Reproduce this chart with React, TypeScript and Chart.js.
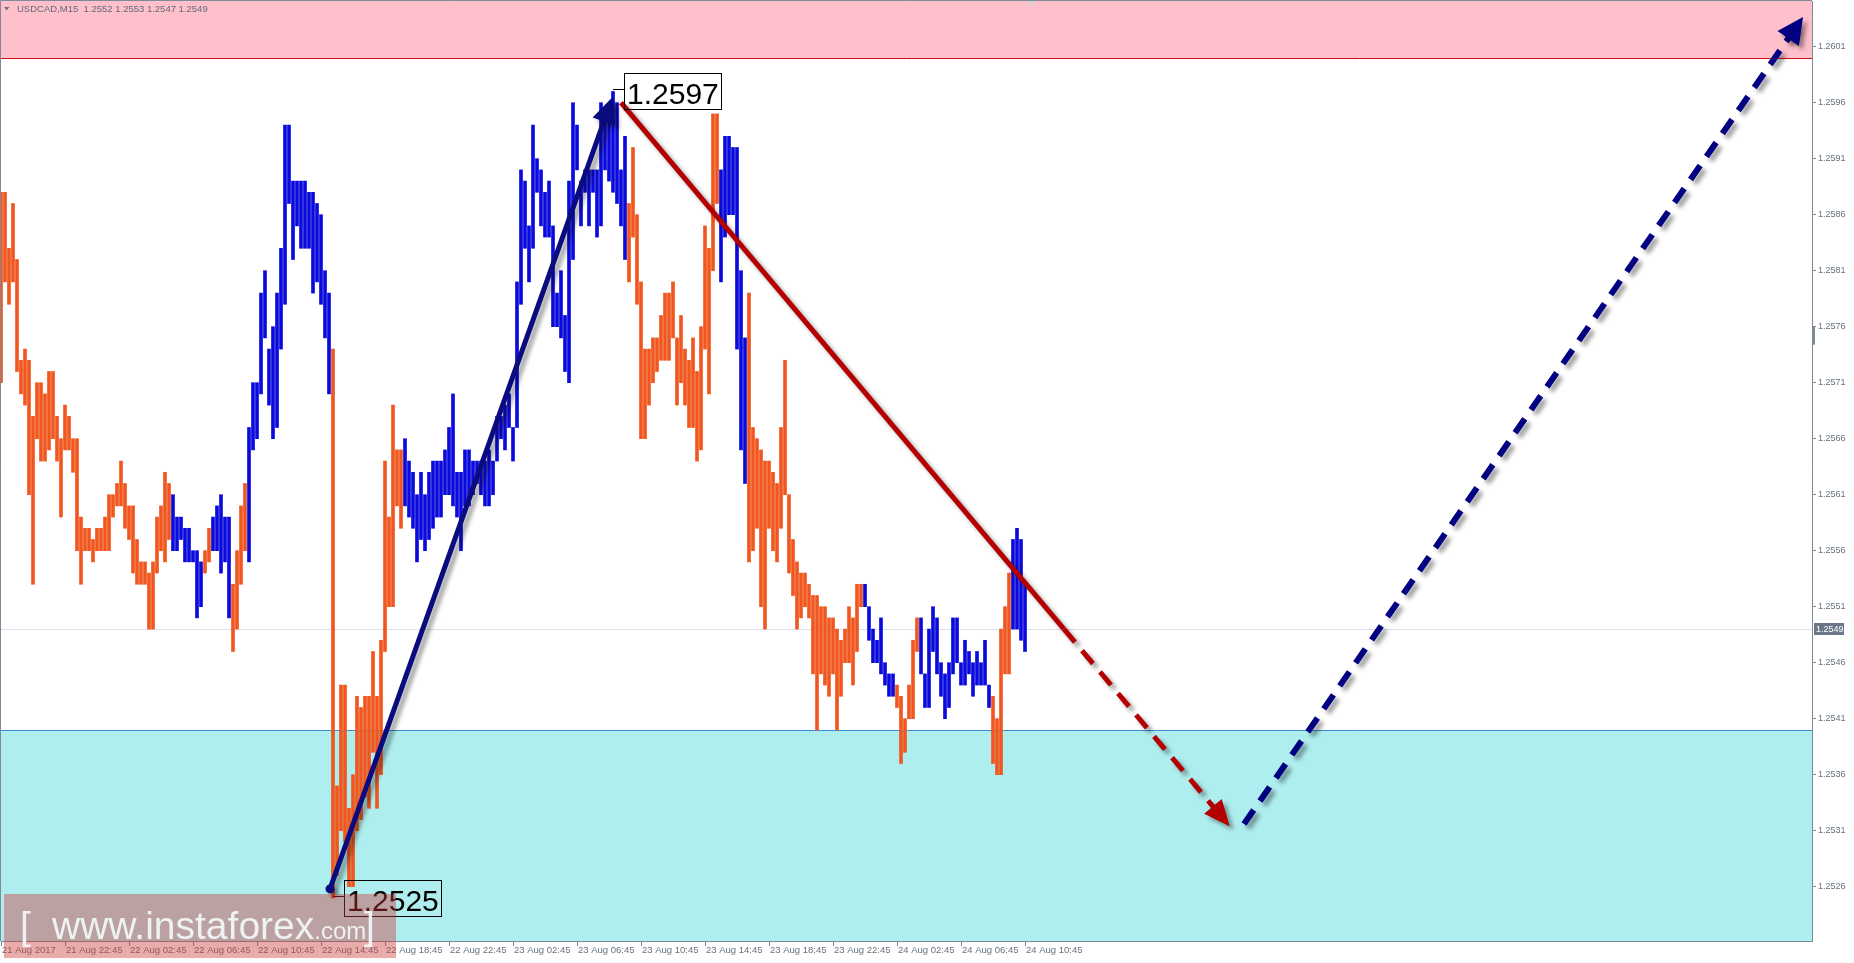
import React, { useEffect, useRef } from 'react';
import { Chart, registerables } from 'chart.js';

Chart.register(...registerables);

// ---------------- data ----------------
const SYMBOL = 'USDCAD,M15';
const HEADER_OHLC = [1.2552, 1.2553, 1.2547, 1.2549];

// M15 bars, index 0 = 21 Aug 18:45 ... 256 = 24 Aug 10:45
const HIGHS = [
  1.2588, 1.2588, 1.2583, 1.2587, 1.2582, 1.2573, 1.2574, 1.2573, 1.2568, 1.2571,
  1.2571, 1.2570, 1.2572, 1.2572, 1.2568, 1.2566, 1.2569, 1.2568, 1.2566, 1.2566,
  1.2559, 1.2558, 1.2558, 1.2557, 1.2558, 1.2558, 1.2559, 1.2561, 1.2561, 1.2562,
  1.2564, 1.2562, 1.2560, 1.2560, 1.2557, 1.2555, 1.2555, 1.2554, 1.2555, 1.2559,
  1.2560, 1.2563, 1.2562, 1.2561, 1.2559, 1.2559, 1.2558, 1.2558, 1.2556, 1.2556,
  1.2555, 1.2556, 1.2558, 1.2559, 1.2560, 1.2561, 1.2559, 1.2559, 1.2553, 1.2556,
  1.2560, 1.2562, 1.2567, 1.2571, 1.2571, 1.2579, 1.2581, 1.2574, 1.2576, 1.2579,
  1.2583, 1.2594, 1.2594, 1.2589, 1.2589, 1.2589, 1.2589, 1.2588, 1.2588, 1.2587,
  1.2586, 1.2581, 1.2579, 1.2574, 1.2535, 1.2544, 1.2544, 1.2533, 1.2536, 1.2543,
  1.2542, 1.2543, 1.2543, 1.2547, 1.2543, 1.2548, 1.2564, 1.2559, 1.2569, 1.2565,
  1.2565, 1.2566, 1.2564, 1.2563, 1.2561, 1.2563, 1.2561, 1.2563, 1.2564, 1.2564,
  1.2564, 1.2565, 1.2567, 1.2570, 1.2563, 1.2563, 1.2565, 1.2565, 1.2564, 1.2564,
  1.2564, 1.2564, 1.2565, 1.2564, 1.2568, 1.2568, 1.2569, 1.2570, 1.2567, 1.2580,
  1.2590, 1.2589, 1.2585, 1.2594, 1.2591, 1.2590, 1.2588, 1.2589, 1.2585, 1.2579,
  1.2581, 1.2577, 1.2589, 1.2596, 1.2594, 1.2589, 1.2590, 1.2590, 1.2590, 1.2590,
  1.2596, 1.2595, 1.2595, 1.2597, 1.2596, 1.2590, 1.2593, 1.2587, 1.2592, 1.2586,
  1.2580, 1.2574, 1.2574, 1.2575, 1.2575, 1.2577, 1.2579, 1.2579, 1.2580, 1.2575,
  1.2577, 1.2574, 1.2573, 1.2575, 1.2572, 1.2576, 1.2585, 1.2583, 1.2595, 1.2595,
  1.2590, 1.2593, 1.2593, 1.2592, 1.2592, 1.2581, 1.2575, 1.2579, 1.2567, 1.2566,
  1.2565, 1.2564, 1.2564, 1.2563, 1.2562, 1.2567, 1.2573, 1.2561, 1.2557, 1.2555,
  1.2554, 1.2554, 1.2553, 1.2552, 1.2552, 1.2551, 1.2551, 1.2550, 1.2550, 1.2549,
  1.2548, 1.2549, 1.2551, 1.2550, 1.2553, 1.2553, 1.2553, 1.2551, 1.2549, 1.2548,
  1.2550, 1.2546, 1.2545, 1.2545, 1.2544, 1.2543, 1.2541, 1.2544, 1.2548, 1.2550,
  1.2550, 1.2545, 1.2549, 1.2551, 1.2550, 1.2546, 1.2545, 1.2546, 1.2550, 1.2550,
  1.2546, 1.2548, 1.2547, 1.2546, 1.2547, 1.2546, 1.2548, 1.2544, 1.2543, 1.2541,
  1.2549, 1.2551, 1.2554, 1.2557, 1.2558, 1.2557, 1.2553,
];

const LOWS = [
  1.2571, 1.2580, 1.2578, 1.2580, 1.2572, 1.2570, 1.2569, 1.2561, 1.2553, 1.2566,
  1.2564, 1.2564, 1.2565, 1.2566, 1.2564, 1.2559, 1.2565, 1.2565, 1.2563, 1.2556,
  1.2553, 1.2556, 1.2556, 1.2555, 1.2556, 1.2556, 1.2556, 1.2556, 1.2559, 1.2560,
  1.2560, 1.2558, 1.2557, 1.2554, 1.2553, 1.2553, 1.2553, 1.2549, 1.2549, 1.2554,
  1.2556, 1.2555, 1.2557, 1.2556, 1.2556, 1.2557, 1.2555, 1.2555, 1.2555, 1.2550,
  1.2551, 1.2554, 1.2555, 1.2556, 1.2556, 1.2554, 1.2555, 1.2550, 1.2547, 1.2549,
  1.2553, 1.2556, 1.2555, 1.2565, 1.2566, 1.2570, 1.2575, 1.2569, 1.2566, 1.2567,
  1.2574, 1.2578, 1.2587, 1.2582, 1.2585, 1.2583, 1.2583, 1.2583, 1.2579, 1.2580,
  1.2578, 1.2575, 1.2570, 1.2525, 1.2527, 1.2531, 1.2530, 1.2526, 1.2526, 1.2531,
  1.2532, 1.2534, 1.2533, 1.2538, 1.2533, 1.2536, 1.2547, 1.2551, 1.2551, 1.2560,
  1.2558, 1.2560, 1.2559, 1.2558, 1.2555, 1.2557, 1.2556, 1.2557, 1.2558, 1.2559,
  1.2559, 1.2561, 1.2561, 1.2560, 1.2559, 1.2556, 1.2560, 1.2560, 1.2561, 1.2562,
  1.2561, 1.2560, 1.2560, 1.2561, 1.2564, 1.2566, 1.2565, 1.2567, 1.2564, 1.2567,
  1.2578, 1.2583, 1.2580, 1.2583, 1.2588, 1.2585, 1.2584, 1.2584, 1.2576, 1.2576,
  1.2575, 1.2572, 1.2571, 1.2582, 1.2590, 1.2585, 1.2588, 1.2585, 1.2588, 1.2584,
  1.2585, 1.2590, 1.2589, 1.2588, 1.2587, 1.2585, 1.2582, 1.2580, 1.2584, 1.2578,
  1.2566, 1.2566, 1.2569, 1.2571, 1.2572, 1.2573, 1.2573, 1.2573, 1.2575, 1.2569,
  1.2571, 1.2569, 1.2567, 1.2567, 1.2564, 1.2565, 1.2574, 1.2570, 1.2581, 1.2587,
  1.2580, 1.2584, 1.2586, 1.2586, 1.2574, 1.2565, 1.2562, 1.2555, 1.2556, 1.2558,
  1.2551, 1.2549, 1.2558, 1.2556, 1.2555, 1.2558, 1.2561, 1.2554, 1.2552, 1.2549,
  1.2550, 1.2551, 1.2550, 1.2545, 1.2540, 1.2545, 1.2544, 1.2543, 1.2545, 1.2540,
  1.2543, 1.2546, 1.2546, 1.2544, 1.2547, 1.2551, 1.2551, 1.2548, 1.2546, 1.2546,
  1.2545, 1.2544, 1.2543, 1.2543, 1.2542, 1.2537, 1.2538, 1.2541, 1.2541, 1.2547,
  1.2545, 1.2542, 1.2542, 1.2547, 1.2545, 1.2543, 1.2541, 1.2542, 1.2545, 1.2546,
  1.2544, 1.2544, 1.2545, 1.2543, 1.2544, 1.2544, 1.2544, 1.2542, 1.2537, 1.2536,
  1.2536, 1.2545, 1.2545, 1.2549, 1.2549, 1.2548, 1.2547,
];

// 1 = up bar (blue), 0 = down bar (orange)
const DIRECTION = [
  0, 0, 0, 0, 0, 0, 0, 0, 0, 0,
  0, 0, 0, 0, 0, 0, 0, 0, 0, 0,
  0, 0, 0, 0, 0, 0, 0, 0, 0, 0,
  0, 0, 0, 0, 0, 0, 0, 0, 0, 0,
  0, 0, 0, 1, 1, 1, 1, 1, 1, 1,
  1, 0, 0, 1, 1, 1, 1, 1, 0, 0,
  0, 0, 1, 1, 1, 1, 1, 1, 1, 1,
  1, 1, 1, 1, 1, 1, 1, 1, 1, 1,
  1, 1, 1, 0, 0, 0, 0, 0, 0, 0,
  0, 0, 0, 0, 0, 0, 0, 0, 0, 0,
  0, 1, 1, 1, 1, 1, 1, 1, 1, 1,
  1, 1, 1, 1, 1, 1, 1, 1, 1, 1,
  1, 1, 1, 1, 1, 1, 1, 1, 1, 1,
  1, 1, 1, 1, 1, 1, 1, 1, 1, 1,
  1, 1, 1, 1, 1, 1, 1, 1, 1, 1,
  1, 1, 1, 1, 1, 1, 1, 0, 0, 0,
  0, 0, 0, 0, 0, 0, 0, 0, 0, 0,
  0, 0, 0, 0, 0, 0, 0, 0, 0, 0,
  1, 1, 1, 1, 1, 1, 1, 0, 0, 0,
  0, 0, 0, 0, 0, 0, 0, 0, 0, 0,
  0, 0, 0, 0, 0, 0, 0, 0, 0, 0,
  0, 0, 0, 0, 0, 0, 1, 1, 1, 1,
  1, 1, 1, 1, 0, 0, 0, 0, 0, 0,
  1, 1, 1, 1, 1, 1, 1, 1, 1, 1,
  1, 1, 1, 1, 1, 1, 1, 1, 0, 0,
  0, 0, 0, 1, 1, 1, 1,
];

const X_TICK_BARS = [0, 16, 32, 48, 64, 80, 96, 112, 128, 144, 160, 176, 192, 208, 224, 240, 256];
const X_TICK_LABELS = [
  '21 Aug 2017', '21 Aug 22:45', '22 Aug 02:45', '22 Aug 06:45', '22 Aug 10:45',
  '22 Aug 14:45', '22 Aug 18:45', '22 Aug 22:45', '23 Aug 02:45', '23 Aug 06:45',
  '23 Aug 10:45', '23 Aug 14:45', '23 Aug 18:45', '23 Aug 22:45', '24 Aug 02:45',
  '24 Aug 06:45', '24 Aug 10:45',
];
const Y_TICKS = [
  1.2526, 1.2531, 1.2536, 1.2541, 1.2546, 1.2551, 1.2556, 1.2561,
  1.2566, 1.2571, 1.2576, 1.2581, 1.2586, 1.2591, 1.2596, 1.2601,
];

const X_MIN = 0;
const X_MAX = 452.75;
const Y_MIN = 1.252115;
const Y_MAX = 1.260508;

const RESISTANCE_ZONE_LOW = 1.26;
const SUPPORT_ZONE_HIGH = 1.254;
const CURRENT_PRICE = 1.2549;
const SCROLL_MARK = [1.2576, 1.25744];
const SHIFT_BAR = 257.5;

// wave arrows (bar index, price)
const WAVE_UP_X = [82.25, 152.4];
const WAVE_UP_Y = [1.25258, 1.2596];
const WAVE_DOWN_X = [155, 265.75, 306.2];
const WAVE_DOWN_Y = [1.2596, 1.2549, 1.25318];
const FORECAST_X = [310.75, 449.65];
const FORECAST_Y = [1.25316, 1.26032];

// price labels at the wave extremes
const LEVEL_BARS = [83, 153];
const LEVEL_PRICES = [1.2525, 1.2597];
const LEVEL_TEXTS = ['1.2525', '1.2597'];

// ---------------- styles ----------------
const FONT = '"Liberation Sans", Arial, sans-serif';
const AXIS_TEXT = '#66727F';
const AXIS_LINE = '#7E8A97';
const BEAR = '#F0561E';
const BULL = '#0A0ADC';
const NAVY = '#0B0B80';
const DARK_RED = '#B40000';
const FORECAST_BLUE = '#000080';

const HEADS: Record<string, { len: number; w: number; color: string }> = {
  waveUp: { len: 26, w: 24, color: NAVY },
  waveDown: { len: 26, w: 23, color: DARK_RED },
  forecast: { len: 26, w: 26, color: FORECAST_BLUE },
};

function setShadow(ctx: CanvasRenderingContext2D) {
  ctx.shadowColor = 'rgba(0,0,0,0.38)';
  ctx.shadowBlur = 4;
  ctx.shadowOffsetX = 4;
  ctx.shadowOffsetY = 4;
}

const overlayPlugin = {
  id: 'overlays',
  beforeDatasetsDraw(chart: any) {
    const { ctx, chartArea: a, scales } = chart;
    const y = scales.y;
    ctx.save();
    const yr = Math.round(y.getPixelForValue(RESISTANCE_ZONE_LOW));
    ctx.fillStyle = '#FFC0CB';
    ctx.fillRect(a.left, a.top, a.right - a.left, yr - a.top);
    ctx.strokeStyle = '#CC1414';
    ctx.lineWidth = 1;
    ctx.beginPath();
    ctx.moveTo(a.left, yr + 0.5);
    ctx.lineTo(a.right, yr + 0.5);
    ctx.stroke();

    const ys = Math.round(y.getPixelForValue(SUPPORT_ZONE_HIGH));
    ctx.fillStyle = '#AFEEEE';
    ctx.fillRect(a.left, ys, a.right - a.left, a.bottom - ys);
    ctx.strokeStyle = '#3C8ED3';
    ctx.beginPath();
    ctx.moveTo(a.left, ys + 0.5);
    ctx.lineTo(a.right, ys + 0.5);
    ctx.stroke();

    const yc = Math.round(y.getPixelForValue(CURRENT_PRICE));
    ctx.strokeStyle = '#DDE0EE';
    ctx.beginPath();
    ctx.moveTo(a.left, yc + 0.5);
    ctx.lineTo(a.right, yc + 0.5);
    ctx.stroke();
    ctx.restore();
  },
  beforeDatasetDraw(chart: any, args: any) {
    const ds = chart.data.datasets[args.index];
    if (ds.type === 'line') {
      chart.ctx.save();
      setShadow(chart.ctx);
    }
  },
  afterDatasetDraw(chart: any, args: any) {
    const ds = chart.data.datasets[args.index];
    if (ds.type === 'line') chart.ctx.restore();
  },
  afterDatasetsDraw(chart: any) {
    const { ctx, scales } = chart;
    const x = scales.x;
    const y = scales.y;
    // arrow heads
    chart.data.datasets.forEach((ds: any, i: number) => {
      const head = HEADS[ds.label];
      if (!head) return;
      const pts = chart.getDatasetMeta(i).data;
      const p1 = pts[pts.length - 2];
      const p2 = pts[pts.length - 1];
      const dx = p2.x - p1.x;
      const dy = p2.y - p1.y;
      const l = Math.hypot(dx, dy);
      const ux = dx / l;
      const uy = dy / l;
      const tx = p2.x + ux * 6;
      const ty = p2.y + uy * 6;
      const bx = tx - ux * head.len;
      const by = ty - uy * head.len;
      const px = -uy;
      const py = ux;
      ctx.save();
      setShadow(ctx);
      ctx.fillStyle = head.color;
      ctx.beginPath();
      ctx.moveTo(tx, ty);
      ctx.lineTo(bx + (px * head.w) / 2, by + (py * head.w) / 2);
      ctx.lineTo(bx - (px * head.w) / 2, by - (py * head.w) / 2);
      ctx.closePath();
      ctx.fill();
      ctx.restore();
    });
    // price labels
    ctx.save();
    LEVEL_BARS.forEach((bar, k) => {
      const ax = x.getPixelForValue(bar);
      const ay = Math.round(y.getPixelForValue(LEVEL_PRICES[k]));
      const bx = Math.round(ax + 11);
      const by = ay - 18;
      ctx.strokeStyle = '#000';
      ctx.lineWidth = 1;
      ctx.beginPath();
      ctx.moveTo(ax, ay - 1.5);
      ctx.lineTo(bx, ay - 1.5);
      ctx.stroke();
      ctx.strokeRect(bx + 0.5, by + 0.5, 97, 36);
      ctx.fillStyle = '#000';
      ctx.font = `30px ${FONT}`;
      ctx.textBaseline = 'alphabetic';
      ctx.textAlign = 'left';
      ctx.fillText(LEVEL_TEXTS[k], bx + 3, by + 31);
    });
    ctx.restore();
  },
  afterDraw(chart: any) {
    const { ctx, chartArea: a, scales } = chart;
    const x = scales.x;
    const y = scales.y;
    ctx.save();
    // frame
    ctx.strokeStyle = AXIS_LINE;
    ctx.lineWidth = 1;
    ctx.beginPath();
    ctx.moveTo(0.5, a.bottom);
    ctx.lineTo(0.5, 0.5);
    ctx.lineTo(a.right, 0.5);
    ctx.stroke();
    // scroll mark on the price axis
    const s1 = y.getPixelForValue(SCROLL_MARK[0]);
    const s2 = y.getPixelForValue(SCROLL_MARK[1]);
    ctx.fillStyle = '#7E8A97';
    ctx.fillRect(a.right, s1, 3, s2 - s1);
    // chart shift marker
    const sx = x.getPixelForValue(SHIFT_BAR);
    ctx.fillStyle = '#D4D4D4';
    ctx.beginPath();
    ctx.moveTo(sx - 4, 1);
    ctx.lineTo(sx + 4, 1);
    ctx.lineTo(sx, 6);
    ctx.closePath();
    ctx.fill();
    // current price box
    const yc = Math.round(y.getPixelForValue(CURRENT_PRICE));
    ctx.fillStyle = '#6B7889';
    ctx.fillRect(a.right + 2, yc - 6, 30, 12);
    ctx.fillStyle = '#FFFFFF';
    ctx.font = `9px ${FONT}`;
    ctx.textBaseline = 'middle';
    ctx.textAlign = 'left';
    ctx.fillText(CURRENT_PRICE.toFixed(4), a.right + 4, yc + 0.5);
    // header
    ctx.fillStyle = '#6E7A86';
    ctx.beginPath();
    ctx.moveTo(4, 7);
    ctx.lineTo(9.5, 7);
    ctx.lineTo(6.75, 10.5);
    ctx.closePath();
    ctx.fill();
    ctx.fillStyle = '#5E6A76';
    ctx.font = `9.5px ${FONT}`;
    ctx.fillText(`${SYMBOL}  ${HEADER_OHLC.map((v) => v.toFixed(4)).join(' ')}`, 17, 9);
    // watermark
    ctx.fillStyle = 'rgba(205, 55, 55, 0.42)';
    ctx.fillRect(4, 894, 392, 64);
    ctx.fillStyle = 'rgba(242, 248, 248, 0.92)';
    ctx.textBaseline = 'alphabetic';
    ctx.font = `39px ${FONT}`;
    ctx.fillText('[', 20, 939);
    ctx.fillText('www.instaforex', 52, 939);
    const w = ctx.measureText('www.instaforex').width;
    ctx.font = `24px ${FONT}`;
    ctx.fillText('.com', 52 + w, 939);
    ctx.font = `39px ${FONT}`;
    ctx.fillText(']', 364, 939);
    ctx.restore();
  },
};

function zeroPadding(s: any) {
  s.paddingLeft = 0;
  s.paddingRight = 0;
  s.paddingTop = 0;
  s.paddingBottom = 0;
}

export default function App() {
  const ref = useRef<HTMLCanvasElement>(null);

  useEffect(() => {
    const canvas = ref.current;
    if (!canvas) return;
    const barData = HIGHS.map((h, i) => ({ x: i, y: [LOWS[i], h] }));
    const chart = new Chart(canvas, {
      type: 'bar',
      data: {
        datasets: [
          {
            type: 'line',
            label: 'waveUp',
            data: WAVE_UP_X.map((v, i) => ({ x: v, y: WAVE_UP_Y[i] })),
            borderColor: NAVY,
            borderWidth: 5,
            pointRadius: [4.5, 0],
            pointHoverRadius: 0,
            pointBackgroundColor: NAVY,
            pointBorderWidth: 0,
            fill: false,
            tension: 0,
            order: 1,
          } as any,
          {
            type: 'line',
            label: 'waveDown',
            data: WAVE_DOWN_X.map((v, i) => ({ x: v, y: WAVE_DOWN_Y[i] })),
            borderColor: DARK_RED,
            borderWidth: 5,
            pointRadius: 0,
            fill: false,
            tension: 0,
            segment: {
              borderDash: (c: any) => (c.p0DataIndex >= 1 ? [17, 11] : undefined),
            },
            order: 2,
          } as any,
          {
            type: 'line',
            label: 'forecast',
            data: FORECAST_X.map((v, i) => ({ x: v, y: FORECAST_Y[i] })),
            borderColor: FORECAST_BLUE,
            borderWidth: 6,
            borderDash: [17, 11],
            pointRadius: 0,
            fill: false,
            tension: 0,
            order: 3,
          } as any,
          {
            type: 'bar',
            label: 'bars',
            data: barData as any,
            backgroundColor: DIRECTION.map((d) => (d ? BULL : BEAR)),
            barThickness: 3,
            borderWidth: 0,
            order: 10,
          } as any,
        ],
      },
      options: {
        animation: false,
        responsive: false,
        devicePixelRatio: 1,
        events: [],
        layout: { autoPadding: false, padding: { left: 1, top: 1, right: 0, bottom: 0 } },
        plugins: { legend: { display: false }, tooltip: { enabled: false } },
        scales: {
          x: {
            type: 'linear',
            min: X_MIN,
            max: X_MAX,
            bounds: 'data',
            offset: false,
            afterBuildTicks: (s: any) => {
              s.ticks = X_TICK_BARS.map((v) => ({ value: v }));
            },
            afterFit: (s: any) => {
              s.height = 22;
              zeroPadding(s);
            },
            ticks: {
              autoSkip: false,
              maxRotation: 0,
              minRotation: 0,
              align: 'start',
              labelOffset: 1,
              padding: -1,
              color: AXIS_TEXT,
              font: { family: FONT, size: 9.5 },
              callback: (_v: any, i: number) => X_TICK_LABELS[i] ?? '',
            },
            grid: { drawOnChartArea: false, drawTicks: true, tickLength: 5, color: AXIS_LINE, offset: false },
            border: { display: true, color: AXIS_LINE, width: 1 },
          } as any,
          y: {
            type: 'linear',
            position: 'right',
            min: Y_MIN,
            max: Y_MAX,
            bounds: 'data',
            beginAtZero: false,
            afterBuildTicks: (s: any) => {
              s.ticks = Y_TICKS.map((v) => ({ value: v }));
            },
            afterFit: (s: any) => {
              s.width = 42;
              zeroPadding(s);
            },
            ticks: {
              autoSkip: false,
              padding: 2,
              color: AXIS_TEXT,
              font: { family: FONT, size: 9 },
              callback: (v: any) => Number(v).toFixed(4),
            },
            grid: { drawOnChartArea: false, drawTicks: true, tickLength: 4, color: AXIS_LINE },
            border: { display: true, color: AXIS_LINE, width: 1 },
          } as any,
        },
      },
      plugins: [overlayPlugin as any],
    });
    return () => chart.destroy();
  }, []);

  return (
    <div style={{ position: 'fixed', left: 0, top: 0, width: 1854, height: 963, background: '#ffffff' }}>
      <canvas ref={ref} width={1854} height={963} style={{ display: 'block', width: 1854, height: 963 }} />
    </div>
  );
}
